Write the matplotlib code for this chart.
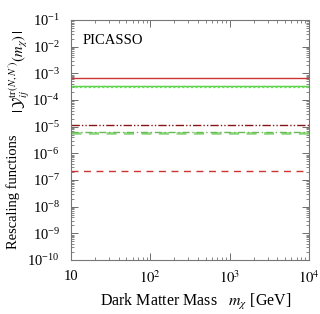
import numpy as np
import matplotlib
matplotlib.use("Agg")
import matplotlib.pyplot as plt

plt.rcParams['font.family'] = ['Liberation Serif', 'DejaVu Serif']
plt.rcParams['mathtext.fontset'] = 'stix'

mass = [10, 1e4]
red_solid = [6.8e-4, 6.8e-4]
green_solid = [3.4e-4, 3.4e-4]
green_dotted = [3.0e-4, 3.0e-4]
darkred_dashdot = [1.15e-5, 1.15e-5]
green_dashed = [5.6e-6, 5.6e-6]
green_dashdot = [6.2e-6, 6.2e-6]
red_dashed = [2.2e-7, 2.2e-7]

W, H = 320, 314
fig = plt.figure(figsize=(3.2, 3.14), dpi=100)
ax = fig.add_axes([71 / W, 1 - 260 / H, 238 / W, 240 / H])

ax.plot(mass, red_solid, color='#cc3333', lw=1.0, ls='-')
ax.plot(mass, green_solid, color='#55cc44', lw=1.0, ls='-')
ax.plot(mass, green_dotted, color='#66dd55', lw=1.6, ls=(0, (1, 1)))
ax.plot(mass, darkred_dashdot, color='#881515', lw=1.0, ls=(0, (6, 1.5, 1, 1.5, 1, 1.5)))
ax.plot(mass, green_dashed, color='#88d477', lw=1.8, ls=(0, (4, 3)))
ax.plot(mass, green_dashdot, color='#66bb55', lw=1.0, ls=(0, (5, 2, 1, 2)))
ax.plot(mass, red_dashed, color='#cc3333', lw=1.0, ls=(0, (5, 4)))

ax.set_xscale('log')
ax.set_yscale('log')
ax.set_xlim(10, 1e4)
ax.set_ylim(1e-10, 1e-1)
ax.set_yticks([10.0**k for k in range(-10, 0)])
ax.set_xticks([10, 100, 1000, 10000])
ax.set_xticklabels(['10', '$10^2$', '$10^3$', '$10^4$'])
ax.yaxis.set_minor_locator(matplotlib.ticker.LogLocator(base=10, subs=np.arange(2, 10), numticks=20))
ax.tick_params(which='both', direction='in', top=True, right=True, colors='#555555', labelcolor='black', labelsize=10.5)
ax.tick_params(which='major', length=5, width=0.6, pad=8)
ax.tick_params(which='minor', length=2.5, width=0.5)
ax.tick_params(axis='x', which='major', pad=7)
for s in ax.spines.values():
    s.set_color('#777777')
    s.set_linewidth(0.8)

ax.text(0.05, 0.915, 'PICASSO', transform=ax.transAxes, fontsize=10.5, va='center', ha='left')

fig.text(196 / W, 1 - 306 / H, r'Dark Matter Mass   $m_\chi$ [GeV]', fontsize=11.5,
         ha='center', va='baseline')

fig.text(13 / W, 1 - 192 / H, 'Rescaling functions', rotation=90, fontsize=10.5,
         ha='center', va='center')
fig.text(19 / W, 1 - 71 / H, r'$|\,\mathcal{Y}_{ij}^{\mathrm{tr}\,(N,N^{\prime})}(m_\chi)\,|$',
         rotation=90, fontsize=10.5, ha='center', va='center')

fig.savefig('out.png', dpi=100)
